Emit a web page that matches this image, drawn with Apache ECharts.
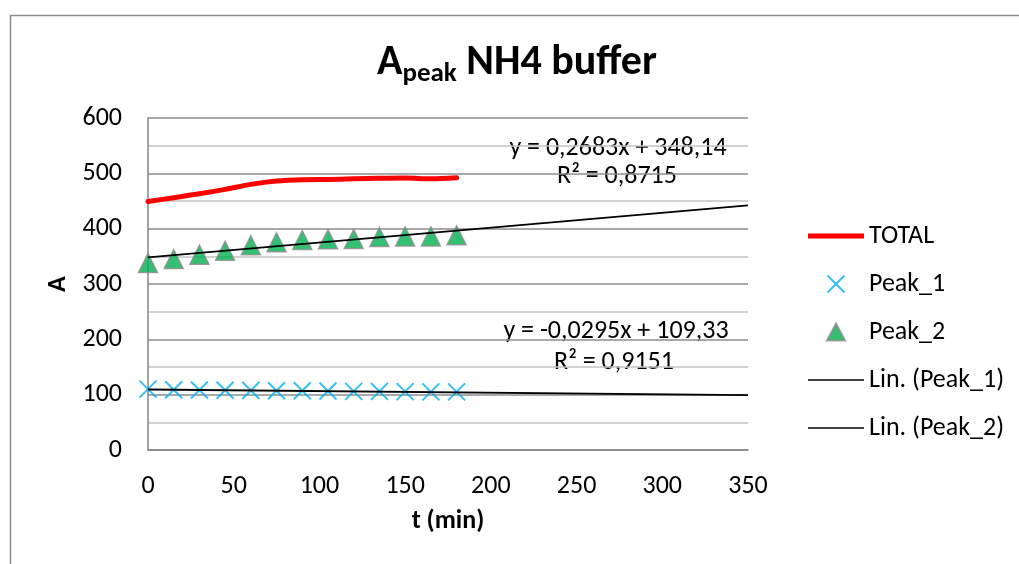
<!DOCTYPE html>
<html>
<head>
<meta charset="utf-8">
<script src="https://cdn.jsdelivr.net/npm/echarts@6/dist/echarts.min.js"></script>
<style>html,body{margin:0;padding:0;background:#fff}#c{width:1019px;height:564px}</style>
</head>
<body>
<div id="c"></div>
<script>
const tMin = [0, 15, 30, 45, 60, 75, 90, 105, 120, 135, 150, 165, 180];
const total = [449, 456, 463, 471, 480, 486, 488.5, 489, 490, 491, 491.5, 490, 492];
const peak1 = [110, 109, 108.5, 108, 107.5, 107, 107, 106.5, 106, 106, 105.5, 105, 105];
const peak2 = [338, 345, 353, 360, 370, 375.5, 379.5, 381, 381.5, 385, 386, 386, 388];
const trend1 = { slope: -0.0295, intercept: 109.33 };
const trend2 = { slope: 0.2683, intercept: 348.14 };
const trendRange = [0, 350];
const eq1 = ['y = -0,0295x + 109,33', 'R² = 0,9151'];
const eq2 = ['y = 0,2683x + 348,14', 'R² = 0,8715'];
const xTicks = [0, 50, 100, 150, 200, 250, 300, 350];
const yTicks = [0, 100, 200, 300, 400, 500, 600];

const FONT = 'Carlito, Lato, "Liberation Sans", sans-serif';
const FS = 26;
const pair = (xs, ys) => xs.map((x, i) => [x, ys[i]]);
const trendLine = t => trendRange.map(x => [x, t.intercept + t.slope * x]);

const chart = echarts.init(document.getElementById('c'), null, {renderer: 'canvas'});
chart.setOption({
  animation: false,
  backgroundColor: '#fff',
  textStyle: {fontFamily: FONT},
  title: {
    left: 372, top: 33,
    text: '{a|A}{s|peak}{a| NH4 buffer}',
    textStyle: {
      rich: {
        a: {fontFamily: FONT, fontSize: 42, fontWeight: 'bold', color: '#000', lineHeight: 50},
        s: {fontFamily: FONT, fontSize: 27, fontWeight: 'bold', color: '#000', lineHeight: 20, verticalAlign: 'bottom'}
      }
    }
  },
  grid: {left: 148, right: 271, top: 118, bottom: 114, containLabel: false},
  xAxis: {
    type: 'value', min: xTicks[0], max: xTicks[xTicks.length - 1], interval: 50,
    name: 't (min)', nameLocation: 'middle', nameGap: 58,
    nameTextStyle: {fontFamily: FONT, fontSize: FS, fontWeight: 'bold', color: '#000'},
    axisLine: {show: true, onZero: false, lineStyle: {color: '#868686', width: 1.5}},
    axisTick: {show: false},
    axisLabel: {fontFamily: FONT, fontSize: FS, color: '#000', margin: 23},
    splitLine: {show: false}
  },
  yAxis: {
    type: 'value', min: yTicks[0], max: yTicks[yTicks.length - 1], interval: 100,
    name: 'A', nameLocation: 'middle', nameGap: 77,
    nameTextStyle: {fontFamily: FONT, fontSize: FS, fontWeight: 'bold', color: '#000'},
    axisLine: {show: true, lineStyle: {color: '#868686', width: 1.5}},
    axisTick: {show: false},
    axisLabel: {fontFamily: FONT, fontSize: FS, color: '#000', margin: 26},
    splitLine: {show: true, lineStyle: {color: '#8c8c8c', width: 1.5}},
    minorTick: {show: false, splitNumber: 2},
    minorSplitLine: {show: true, lineStyle: {color: '#c4c4c4', width: 1.5}}
  },
  legend: {
    orient: 'vertical', left: 803, top: 218, itemWidth: 56, itemHeight: 17, itemGap: 22,
    textStyle: {fontFamily: FONT, fontSize: FS, color: '#000', lineHeight: 26},
    data: [
      {name: 'TOTAL', icon: 'path://M0,0H56V5H0Z', itemStyle: {color: '#ff0000'}},
      {name: 'Peak_1'},
      {name: 'Peak_2', icon: 'path://M8,0L16,15L0,15Z'},
      {name: 'Lin. (Peak_1)', icon: 'path://M0,0H56V1.6H0Z', itemStyle: {color: '#000'}},
      {name: 'Lin. (Peak_2)', icon: 'path://M0,0H56V1.6H0Z', itemStyle: {color: '#000'}}
    ]
  },
  series: [
    {name: 'Lin. (Peak_1)', type: 'line', data: trendLine(trend1), showSymbol: false, symbol: 'none',
     lineStyle: {color: '#000', width: 1.8}, itemStyle: {color: '#000'}, z: 3},
    {name: 'Lin. (Peak_2)', type: 'line', data: trendLine(trend2), showSymbol: false, symbol: 'none',
     lineStyle: {color: '#000', width: 1.8}, itemStyle: {color: '#000'}, z: 3},
    {name: 'TOTAL', type: 'line', data: pair(tMin, total), smooth: 0.3, showSymbol: false, symbol: 'none',
     lineStyle: {color: '#ff0000', width: 5, cap: 'round'}, itemStyle: {color: '#ff0000'}, z: 4},
    {name: 'Peak_1', type: 'scatter', data: pair(tMin, peak1), symbol: 'path://M0,0L10,10M10,0L0,10', symbolSize: 17,
     itemStyle: {color: 'rgba(0,0,0,0)', borderColor: '#00b0f0', borderWidth: 2}, z: 2},
    {name: 'Peak_2', type: 'scatter', data: pair(tMin, peak2), symbol: 'triangle', symbolSize: 19,
     itemStyle: {color: '#00b050', borderColor: '#8c8c8c', borderWidth: 1.5}, z: 2}
  ],
  graphic: [
    {type: 'rect', left: 8, top: 13, shape: {width: 1100, height: 700}, style: {fill: 'none', stroke: '#8c8c8c', lineWidth: 1.5}, silent: true},
    {type: 'text', x: 618, y: 148, style: {text: eq2[0], font: FS + 'px ' + FONT, fill: '#000', align: 'center', verticalAlign: 'middle'}},
    {type: 'text', x: 617, y: 176, style: {text: eq2[1], font: FS + 'px ' + FONT, fill: '#000', align: 'center', verticalAlign: 'middle'}},
    {type: 'text', x: 616, y: 331, style: {text: eq1[0], font: FS + 'px ' + FONT, fill: '#000', align: 'center', verticalAlign: 'middle'}},
    {type: 'text', x: 614, y: 362, style: {text: eq1[1], font: FS + 'px ' + FONT, fill: '#000', align: 'center', verticalAlign: 'middle'}}
  ]
});
</script>
</body>
</html>
